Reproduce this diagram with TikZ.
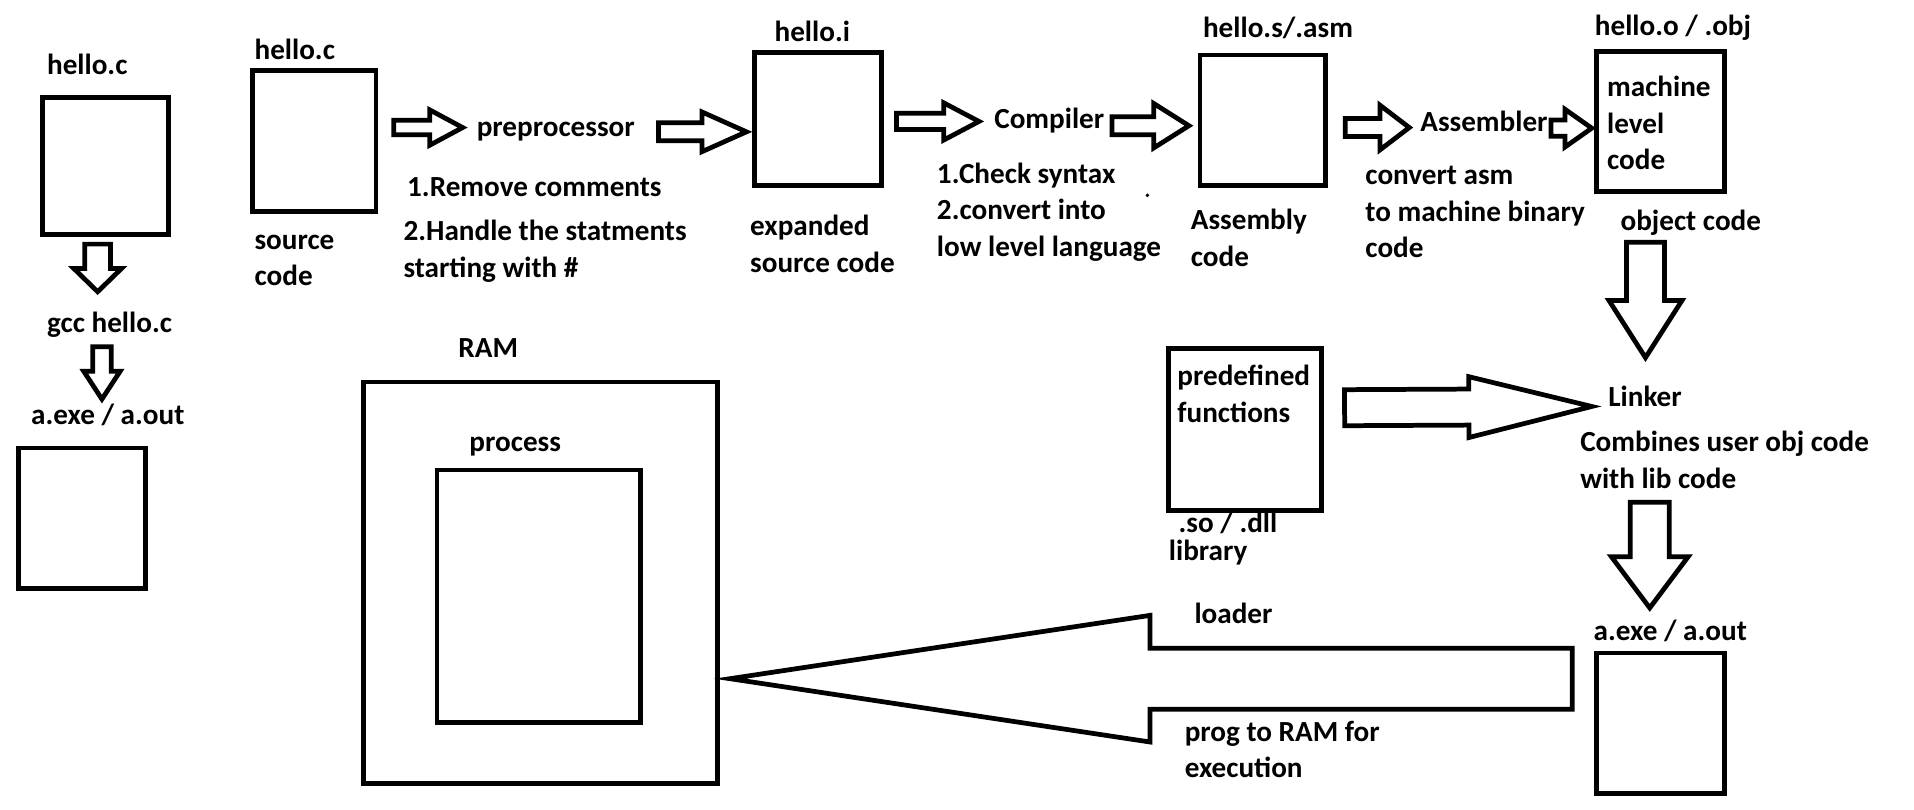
\documentclass[tikz,border=0pt]{standalone}
\usepackage{fontspec}
\setmainfont{Carlito}
\usetikzlibrary{calc}

% fat hollow arrow: tail, tip, shaft half width, head half width, head length (in px)
\newcommand{\fatarrow}[5]{%
  \coordinate (fa-base) at ($(#2)!{#5*0.3464pt}!(#1)$);
  \draw[fat] ($(#1)!{#3*0.3464pt}!90:(#2)$) -- ($(fa-base)!{#3*0.3464pt}!90:(#2)$)
    -- ($(fa-base)!{#4*0.3464pt}!90:(#2)$) -- (#2)
    -- ($(fa-base)!{#4*0.3464pt}!-90:(#2)$) -- ($(fa-base)!{#3*0.3464pt}!-90:(#2)$)
    -- ($(#1)!{#3*0.3464pt}!-90:(#2)$) -- cycle;
}

\tikzset{
  box/.style={draw, line width=1.35pt},
  fat/.style={draw, line width=1.35pt, line join=miter},
  lbl/.style={anchor=base west, align=left, inner sep=0pt,
    font=\fontsize{8.3}{10.4}\selectfont\bfseries}
}

\begin{document}
\begin{tikzpicture}[x=0.012207cm, y=-0.012207cm]
  \useasboundingbox (0,0) rectangle (1568,663);
  % gcc column
  \node[lbl] (hc1) at (38,61) {hello.c};
  \draw[box] (35,80) rectangle (138,192);
  \node[lbl] (gcc) at (38,272) {gcc hello.c};
  \node[lbl] (exe1) at (25,348) {a.exe / a.out};
  \draw[box] (15,367) rectangle (119,482);
  \coordinate (c1a) at (80,200);
  \coordinate (c1b) at (80,239);
  \coordinate (c2a) at (83.5,284);
  \coordinate (c2b) at (83.5,327);
  \fatarrow{c1a}{c1b}{10.5}{19.5}{19}
  \fatarrow{c2a}{c2b}{7.6}{15}{23}
  % source code
  \node[lbl] (hc2) at (208,49) {hello.c};
  \draw[box] (207,58) rectangle (308,173);
  \node[lbl] (src) at (208,234) {source\\code};
  \coordinate (p1a) at (322.5,104.5);
  \coordinate (p1b) at (379,104.5);
  \fatarrow{p1a}{p1b}{6}{14.5}{27}
  \node[lbl] (pre) at (390,112) {preprocessor};
  \node[lbl] (rem) at (333,161) {1.Remove comments};
  \node[lbl] (hdl) at (330,227) {2.Handle the statments\\starting with \#};
  \coordinate (p2a) at (539.5,108);
  \coordinate (p2b) at (611.5,108);
  \fatarrow{p2a}{p2b}{7.4}{16.3}{36.5}
  % expanded source
  \node[lbl] (hi) at (634,34) {hello.i};
  \draw[box] (618,43) rectangle (722,152);
  \node[lbl] (exp) at (614,223) {expanded\\source code};
  \coordinate (k1a) at (734.5,99.5);
  \coordinate (k1b) at (802,99.5);
  \fatarrow{k1a}{k1b}{6.7}{15.3}{29}
  \node[lbl] (cmp) at (814,105) {Compiler};
  \node[lbl] (chk) at (767,210) {1.Check syntax\\2.convert into\\low level language};
  \fill (940,160) circle (1.6);
  \coordinate (k2a) at (911,103);
  \coordinate (k2b) at (974,103);
  \fatarrow{k2a}{k2b}{7.4}{18.3}{29}
  % assembly
  \node[lbl] (hs) at (985,31) {hello.s/.asm};
  \draw[box] (983,45) rectangle (1086,152);
  \node[lbl] (asm) at (975,218) {Assembly\\code};
  \coordinate (a1a) at (1102,104.5);
  \coordinate (a1b) at (1154.5,104.5);
  \fatarrow{a1a}{a1b}{7.4}{18.3}{24}
  \node[lbl] (asr) at (1163,108) {Assembler};
  \node[lbl] (cva) at (1118,211) {convert asm\\to machine binary\\code};
  \coordinate (a2a) at (1270.5,105);
  \coordinate (a2b) at (1304,105);
  \fatarrow{a2a}{a2b}{6.7}{15.5}{22}
  % object code
  \node[lbl] (ho) at (1306,29) {hello.o / .obj};
  \draw[box] (1308,42) rectangle (1413,157);
  \node[lbl] (mlc) at (1316,139) {machine\\level\\code};
  \node[lbl] (obj) at (1327,189) {object code};
  \coordinate (o1a) at (1348,198.5);
  \coordinate (o1b) at (1348,293);
  \fatarrow{o1a}{o1b}{15.6}{30}{47}
  % library and linker
  \draw[box] (957.5,285.5) rectangle (1082.5,418.5);
  \node[lbl] (pdf) at (964,346) {predefined\\functions};
  \node[lbl] (so) at (965,436) {.so / .dll};
  \node[lbl] (lib) at (957,459) {library};
  \coordinate (l1a) at (1101.5,334);
  \coordinate (l1b) at (1304,333);
  \fatarrow{l1a}{l1b}{14.8}{25}{101}
  \node[lbl] (lnk) at (1317,333) {Linker};
  \node[lbl] (cmb) at (1294,400) {Combines user obj code\\with lib code};
  \coordinate (l2a) at (1351.5,411.5);
  \coordinate (l2b) at (1351.5,498);
  \fatarrow{l2a}{l2b}{16}{31.5}{42}
  % executable and loader
  \node[lbl] (exe2) at (1305,525) {a.exe / a.out};
  \draw[box] (1308,535) rectangle (1413,650);
  \coordinate (ld1) at (1288,556);
  \coordinate (ld2) at (598,556);
  \fatarrow{ld1}{ld2}{25}{52}{345}
  \node[lbl] (ldr) at (978,511) {loader};
  \node[lbl] (prg) at (970,637) {prog to RAM for\\execution};
  % RAM
  \node[lbl] (ram) at (375,293) {RAM};
  \draw[box] (298,313) rectangle (588,642);
  \node[lbl] (prc) at (384,370) {process};
  \draw[box] (358,385) rectangle (525,592);
\end{tikzpicture}
\end{document}
